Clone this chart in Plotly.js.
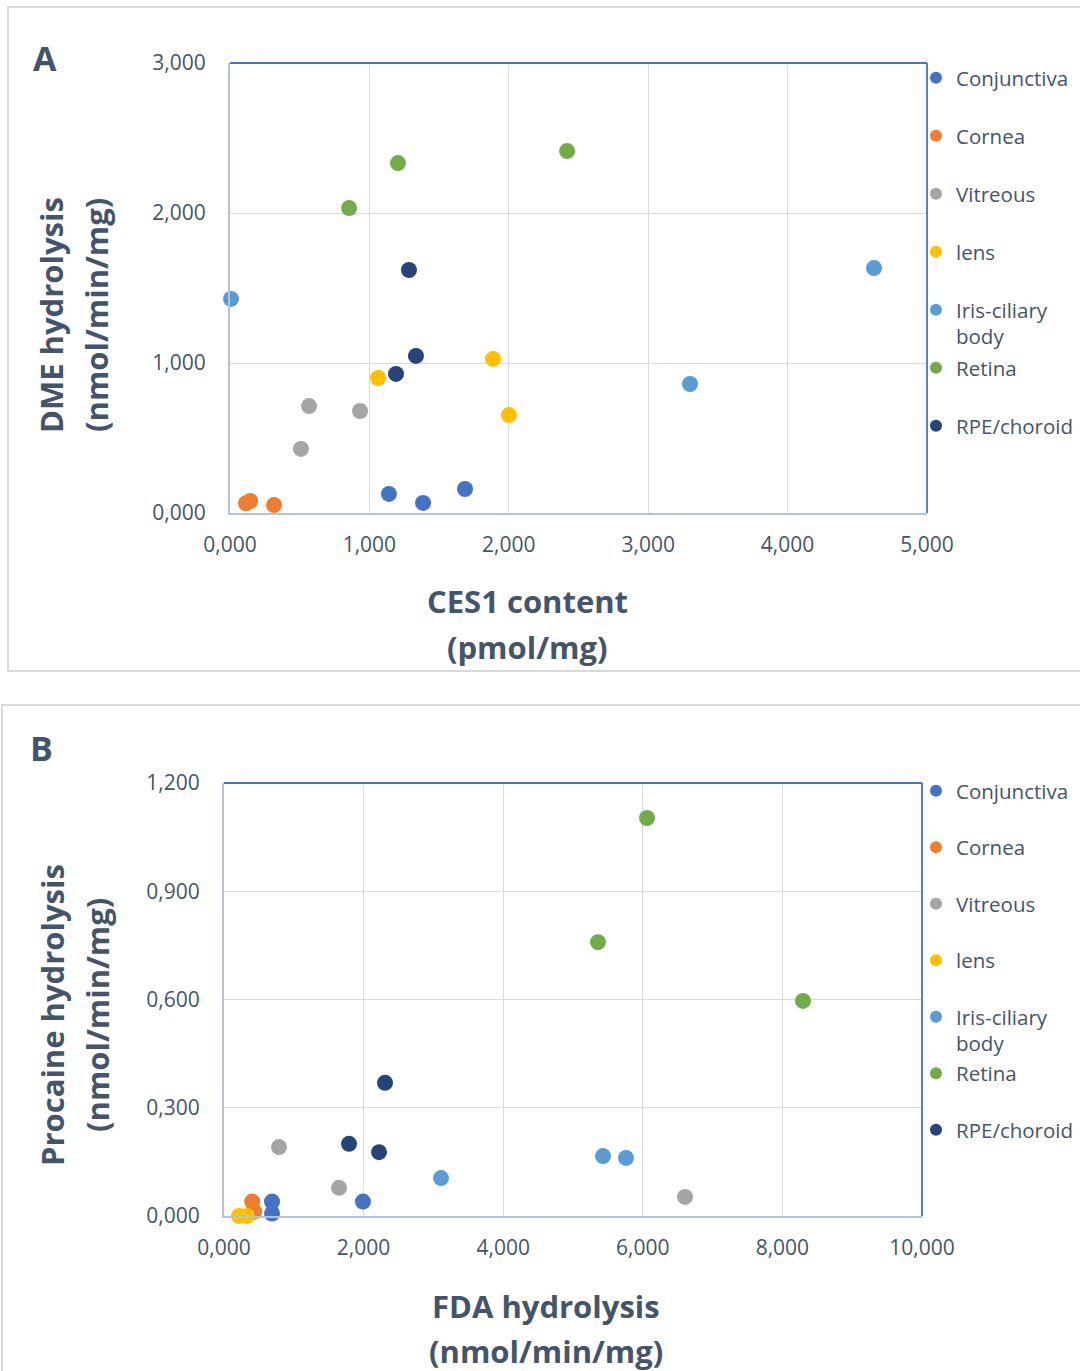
<!DOCTYPE html>
<html>
<head>
<meta charset="utf-8">
<script src="https://cdn.plot.ly/plotly-3.0.1.min.js"></script>
<style>html,body{margin:0;padding:0;background:#fff;}#chart{width:1080px;height:1371px;}</style>
</head>
<body>
<div id="chart"></div>
<script>
// ---- Data ----
const tissues = ["Conjunctiva", "Cornea", "Vitreous", "lens", "Iris-ciliary<br>body", "Retina", "RPE/choroid"];
const colors = ["#4472C4", "#ED7D31", "#A5A5A5", "#FFC000", "#5B9BD5", "#70AD47", "#264478"];

// Panel A: CES1 content (pmol/mg) vs DME hydrolysis (nmol/min/mg)
const aConjunctivaX = [1.140, 1.385, 1.686];
const aConjunctivaY = [0.127, 0.067, 0.160];
const aCorneaX = [0.115, 0.145, 0.316];
const aCorneaY = [0.065, 0.080, 0.053];
const aVitreousX = [0.509, 0.567, 0.933];
const aVitreousY = [0.427, 0.713, 0.680];
const aLensX = [1.062, 1.887, 2.001];
const aLensY = [0.900, 1.027, 0.653];
const aIrisX = [0.007, 3.300, 4.620];
const aIrisY = [1.427, 0.860, 1.633];
const aRetinaX = [0.854, 1.205, 2.418];
const aRetinaY = [2.033, 2.333, 2.413];
const aRpeX = [1.284, 1.191, 1.334];
const aRpeY = [1.620, 0.927, 1.047];

// Panel B: FDA hydrolysis vs Procaine hydrolysis (nmol/min/mg)
const bConjunctivaX = [0.688, 0.688, 1.991];
const bConjunctivaY = [0.040, 0.007, 0.040];
const bCorneaX = [0.405, 0.434];
const bCorneaY = [0.040, 0.012];
const bVitreousX = [0.788, 1.648, 6.605];
const bVitreousY = [0.191, 0.078, 0.053];
const bLensX = [0.215, 0.330];
const bLensY = [0.000, 0.000];
const bIrisX = [3.109, 5.430, 5.759];
const bIrisY = [0.105, 0.166, 0.161];
const bRetinaX = [6.060, 5.358, 8.295];
const bRetinaY = [1.103, 0.759, 0.596];
const bRpeX = [2.307, 1.791, 2.221];
const bRpeY = [0.369, 0.200, 0.177];

const aXTicks = [0, 1, 2, 3, 4, 5];
const aYTicks = [0, 1, 2, 3];
const bXTicks = [0, 2, 4, 6, 8, 10];
const bYTicks = [0, 0.3, 0.6, 0.9, 1.2];

// ---- Build ----
const W = 1080, H = 1371;
const px = x => x / W;
const py = y => 1 - y / H;
const txt = "#44546A";
const FONT = "Open Sans, Noto Sans, sans-serif";

const aSets = [[aConjunctivaX, aConjunctivaY], [aCorneaX, aCorneaY], [aVitreousX, aVitreousY], [aLensX, aLensY], [aIrisX, aIrisY], [aRetinaX, aRetinaY], [aRpeX, aRpeY]];
const bSets = [[bConjunctivaX, bConjunctivaY], [bCorneaX, bCorneaY], [bVitreousX, bVitreousY], [bLensX, bLensY], [bIrisX, bIrisY], [bRetinaX, bRetinaY], [bRpeX, bRpeY]];

const traces = [];
const layout = {
  width: W, height: H, autosize: false,
  margin: {l: 0, r: 0, t: 0, b: 0},
  paper_bgcolor: "#fff", plot_bgcolor: "#fff",
  separators: ",.",
  font: {family: FONT, color: txt, size: 20},
  showlegend: true,
  shapes: [], annotations: []
};

function legendName(k) { return k === 1 ? "legend" : "legend" + k; }

let legIdx = 1;
function addPanel(sets, xa, ya, legTop, legStep) {
  sets.forEach((s, i) => {
    const lk = legendName(legIdx);
    traces.push({
      type: "scatter", mode: "markers", x: s[0], y: s[1], name: tissues[i],
      xaxis: xa, yaxis: ya, legend: lk, cliponaxis: false,
      marker: {size: 16, color: colors[i], line: {width: 0}},
      hoverinfo: "x+y+name"
    });
    layout[lk] = {
      x: px(916), xanchor: "left", y: py(legTop + i * legStep - 16), yanchor: "top",
      bgcolor: "rgba(0,0,0,0)", borderwidth: 0, itemsizing: "constant", valign: "top",
      font: {family: FONT, size: 20.5, color: txt}, itemclick: false, itemdoubleclick: false
    };
    legIdx++;
  });
}
addPanel(aSets, "x", "y", 74, 58);
addPanel(bSets, "x2", "y2", 787, 56.5);

const axisCommon = {
  showgrid: true, gridcolor: "#D9D9D9", gridwidth: 1.3, zeroline: false,
  showline: true, linecolor: "#B4C2DC", linewidth: 2,
  ticks: "", tickformat: ".3f", tickfont: {family: FONT, size: 21, color: txt},
  fixedrange: true
};
layout.xaxis = Object.assign({}, axisCommon, {domain: [px(230), px(927)], range: [0, 5], tickvals: aXTicks, anchor: "y", ticklabelstandoff: 12});
layout.yaxis = Object.assign({}, axisCommon, {domain: [py(513), py(63)], range: [0, 3], tickvals: aYTicks, anchor: "x", ticklabelstandoff: 18});
layout.xaxis2 = Object.assign({}, axisCommon, {domain: [px(224), px(922)], range: [0, 10], tickvals: bXTicks, anchor: "y2", ticklabelstandoff: 12});
layout.yaxis2 = Object.assign({}, axisCommon, {domain: [py(1216), py(783)], range: [0, 1.2], tickvals: bYTicks, anchor: "x2", ticklabelstandoff: 18});

// Plot area top/right borders (blue)
[["x", "y"], ["x2", "y2"]].forEach(([xa, ya]) => {
  layout.shapes.push({type: "line", xref: xa + " domain", yref: ya + " domain", x0: 0, x1: 1, y0: 1, y1: 1, line: {color: "#4472C4", width: 1.8}, layer: "above"});
  layout.shapes.push({type: "line", xref: xa + " domain", yref: ya + " domain", x0: 1, x1: 1, y0: 0, y1: 1, line: {color: "#4472C4", width: 1.8}, layer: "above"});
});
// Chart frames
layout.shapes.push({type: "rect", xref: "paper", yref: "paper", x0: px(8), x1: px(1090), y0: py(671), y1: py(7), line: {color: "#D9D9D9", width: 2}, fillcolor: "rgba(0,0,0,0)", layer: "below"});
layout.shapes.push({type: "rect", xref: "paper", yref: "paper", x0: px(2), x1: px(1090), y0: py(1380), y1: py(705), line: {color: "#D9D9D9", width: 2}, fillcolor: "rgba(0,0,0,0)", layer: "below"});

// Titles and panel letters
function ann(text, x, y, size, angle) {
  layout.annotations.push({text: text, xref: "paper", yref: "paper", x: px(x), y: py(y), xanchor: "center", yanchor: "middle",
    showarrow: false, textangle: angle || 0, font: {family: FONT, size: size, color: txt}});
}
ann("<b>A</b>", 45, 58, 34);
ann("<b>B</b>", 41, 748, 34);
ann("<b>CES1 content</b>", 527, 601, 31);
ann("<b>(pmol/mg)</b>", 527, 647, 31);
ann("<b>DME hydrolysis</b>", 51, 315, 31, -90);
ann("<b>(nmol/min/mg)</b>", 96, 315, 31, -90);
ann("<b>FDA hydrolysis</b>", 546, 1306, 31);
ann("<b>(nmol/min/mg)</b>", 546, 1351, 31);
ann("<b>Procaine hydrolysis</b>", 52, 1015, 31, -90);
ann("<b>(nmol/min/mg)</b>", 97, 1015, 31, -90);

Plotly.newPlot("chart", traces, layout, {displayModeBar: false, staticPlot: false});
</script>
</body>
</html>
